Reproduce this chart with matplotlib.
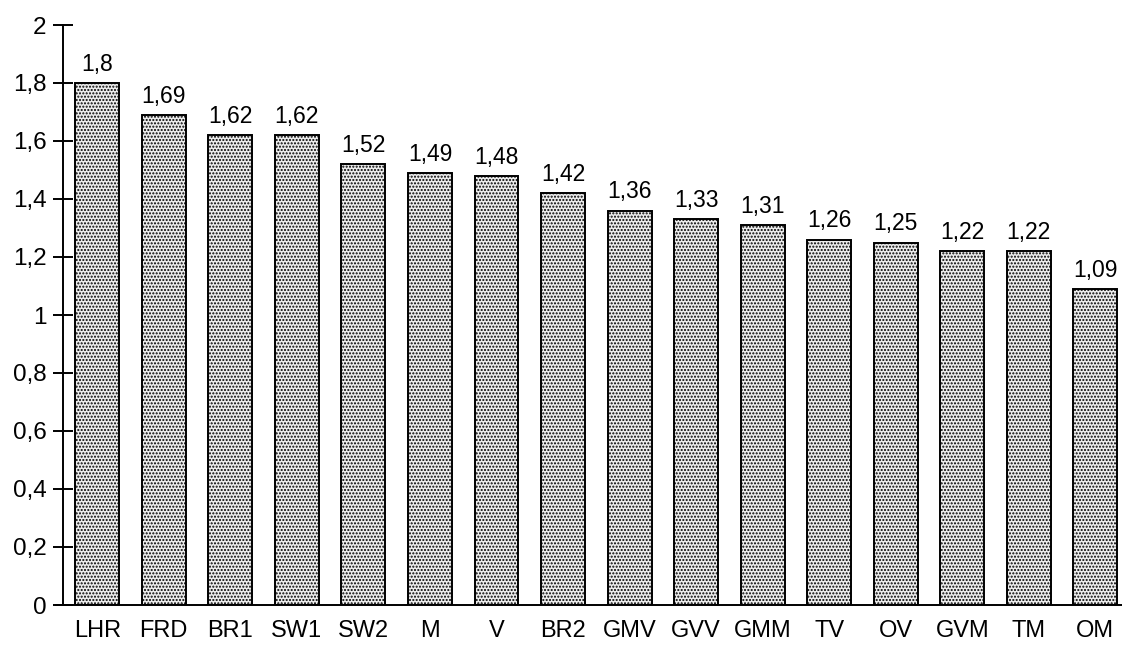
import numpy as np
import matplotlib.pyplot as plt
from matplotlib.ticker import FuncFormatter

plt.rcParams['font.family'] = ['Liberation Sans', 'DejaVu Sans']
plt.rcParams['hatch.color'] = '#8c8c8c'
plt.rcParams['hatch.linewidth'] = 1.0

# Datos del gráfico
categorias = ['LHR', 'FRD', 'BR1', 'SW1', 'SW2', 'M', 'V', 'BR2',
              'GMV', 'GVV', 'GMM', 'TV', 'OV', 'GVM', 'TM', 'OM']
valores = [1.8, 1.69, 1.62, 1.62, 1.52, 1.49, 1.48, 1.42,
           1.36, 1.33, 1.31, 1.26, 1.25, 1.22, 1.22, 1.09]
etiquetas = ['1,8', '1,69', '1,62', '1,62', '1,52', '1,49', '1,48', '1,42',
             '1,36', '1,33', '1,31', '1,26', '1,25', '1,22', '1,22', '1,09']

fig = plt.figure(figsize=(11.22, 6.53), dpi=100)
ax = fig.add_axes([56 / 1122, 48 / 653, 1066 / 1122, 580 / 653])

x = np.arange(len(categorias))
barras = ax.bar(x, valores, width=0.66, facecolor='#ececec', edgecolor='black',
                linewidth=1.4, hatch='.....', zorder=2)

for xi, v, t in zip(x, valores, etiquetas):
    ax.text(xi, v + 0.025, t, ha='center', va='bottom', fontsize=16.5)

ax.set_xlim(-0.62, 15.4)
ax.set_ylim(0, 2)
ax.set_xticks(x)
ax.set_xticklabels(categorias, fontsize=17)
ax.set_yticks(np.arange(0, 2.01, 0.2))
ax.yaxis.set_major_formatter(FuncFormatter(
    lambda v, p: ('%g' % round(v, 1)).replace('.', ',')))
ax.tick_params(axis='y', direction='inout', length=14, width=1.4, labelsize=17.5, pad=5)
ax.tick_params(axis='x', length=0, pad=11)

ax.spines['top'].set_visible(False)
ax.spines['right'].set_visible(False)
ax.spines['left'].set_position(('axes', 7 / 1066))
ax.spines['left'].set_linewidth(1.4)
ax.spines['bottom'].set_linewidth(1.4)

fig.savefig('out.png', dpi=100)
